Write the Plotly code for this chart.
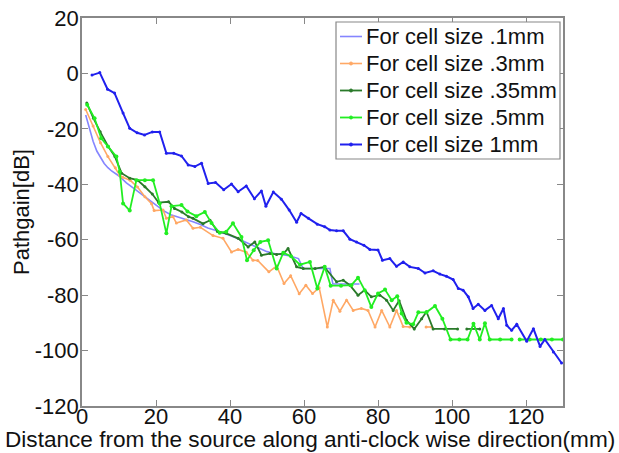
import plotly.graph_objects as go

# ---- data ----
x_01 = [1, 2, 3, 4, 5, 6, 7, 8, 10, 12, 14, 16, 18, 20, 22, 24, 26, 28, 30, 32, 34, 36, 38, 40,
        42, 44, 46, 48, 50, 52, 54, 56, 58.5, 59.8, 63, 67, 67.8, 71, 75]
y_01 = [-15, -20, -24.5, -28, -30.5, -32.5, -34, -35.2, -37, -39.5, -41.5, -43.5, -45.5, -47.5,
        -49.5, -51, -51.8, -52.5, -53.5, -54.5, -55.8, -56.6, -57.5, -58.5, -59.6, -60.8, -62,
        -63.3, -64.3, -65, -65.3, -65.8, -66.8, -70.4, -70.4, -70.4, -76, -76, -76]

x_03 = [1, 3, 5, 7, 9, 10.2, 11, 13, 15, 17, 18.8, 19.5, 21.9, 22.8, 24.6, 25.5, 28.2, 30, 32,
        35.4, 38.1, 40.4, 42.2, 44.4, 46.2, 47.5, 50.5, 52.6, 54.6, 56.4, 58.7, 60.5, 62.3, 64.1,
        66.3, 67.9, 69.7, 71.5, 73.3, 75.5, 77.3, 79.2, 81, 83.2, 85, 86.8, 88.6, None, 93, 94.5]
y_03 = [-13, -19, -25, -30, -34, -36.7, -37.5, -38.5, -41, -44.5, -47, -49.5, -49.3, -52.3, -51.7,
        -54, -52.9, -55.9, -55.5, -58.5, -59.5, -64.4, -63.5, -64.5, -67.4, -67.5, -71.6, -69.5,
        -75.8, -73, -79.5, -76.4, -79.4, -77.3, -91.5, -81.8, -85.8, -81.8, -85.5, -84.8, -85.5,
        -91.5, -85.5, -91.5, -85.5, -91.3, -91.5, None, -91.5, -91.5]

x_035 = [1.3, 3.1, 4.9, 7.1, 8.9, 10.7, 12.9, 15, 17, 19, 20.7, 23.4, 25, 27, 28.8, 30, 32.7,
         34.6, 36.6, 39, 42.2, 44.9, 46.7, 48.5, 50.8, 52.6, 54.4, 55.7, 58, 59.8, 63, 65.5, 68.8,
         70.6, 72.4, 74.6, 76.4, 78.2, 80.5, 82.3, 84.1, 85.7, 87.7, 89.8, 91.8, 93.1, 94.9, 98,
         101.5, None, 104, 107.5]
y_035 = [-10.7, -16.2, -21, -26.4, -30, -36, -37.8, -38.5, -40.9, -43.5, -46.6, -46.3, -48.7, -50,
         -51.7, -52.3, -54.2, -53, -57, -57.7, -59.5, -62.6, -60.8, -65.6, -65, -65.3, -65, -63.2,
         -69.8, -70.4, -70.4, -69.8, -75.2, -74.6, -76.4, -80, -78.2, -80.6, -80, -81.8, -85.5,
         -82, -89.1, -92.2, -88.5, -86, -92.2, -92.2, -92.2, None, -92.2, -92.2]

x_05 = [1.4, 3.4, 5.2, 7, 9.3, 10.2, 11.1, 12.9, 14.7, 17, 19.2, 21, 22.8, 24.2, 26.9, 28.5, 30.9,
        33.2, 35, 37.2, 39, 40.8, 43.1, 44.6, 46.4, 48.2, 50.3, 52.6, 54.4, 56.5, 58.9, 61.6, 63.6,
        65.6, 67.2, 70, 72.8, 74.6, 76.4, 78.2, 80, 81.9, 83.7, 85.2, 86.4, 87.7, 89.5, 90.9, 93.1,
        95.4, 97.4, 99.6, 102, 104.2, 105.8, 107.5, 108.9, 110.2, 113, 116.1, None, 118.3, 121,
        124, 127, 130]
y_05 = [-11.3, -16.2, -23.4, -26.4, -30, -35.5, -46.9, -49.5, -38.5, -38.5, -38.5, -46.9, -57.7,
        -47.9, -47.5, -49.8, -51.5, -50, -54, -57.5, -57.1, -54.1, -59, -67.4, -63.8, -60.8, -60.2,
        -70.4, -64.7, -66, -69, -68, -77.6, -69.8, -76.6, -76.6, -76.4, -73.7, -78.2, -84.3, -79.4,
        -78, -81.8, -80.4, -86.6, -90, -90.5, -86.2, -86.2, -83.9, -88.5, -96, -96, -96, -90.3,
        -96, -90.1, -96, -96, -96, None, -96, -96, -96, -96, -96]

x_1 = [2.7, 4.8, 6.9, 8.8, 11.1, 12.9, 14.9, 16.9, 19.0, 21.0, 22.8, 24.8, 26.9, 28.7, 30.5, 32.3,
       34.1, 36.1, 38.3, 40.4, 42.2, 44.4, 46.6, 48.5, 49.7, 51.7, 53.9, 56, 58, 59.2, 61.2, 63.6,
       65.6, 67, 68.8, 70.6, 72.4, 74.2, 76.2, 77.8, 80, 81.2, 83.2, 85, 86.8, 88.6, 90.9, 92.7,
       94.9, 96.7, 98.5, 100.3, 101.7, 103, 104.4, 105.7, 107.1, 108.9, 110.7, 112.5, 113.9,
       114.8, 116.1, 117.5, 120.2, 122, 123.8, 125.1, 127.4, 129.6]
y_1 = [-0.6, 0.3, -5.7, -7.1, -14.3, -19.8, -21.4, -22.2, -21.1, -21.1, -28.8, -28.8, -29.8, -33,
       -33.6, -32.4, -39.7, -39.4, -42, -39.9, -42.7, -40.6, -45.2, -42.4, -47.9, -42.8, -45.4,
       -49.3, -53.7, -50.5, -52.3, -54.4, -55.3, -56.5, -56.8, -56.8, -59.8, -60.8, -62, -63.5,
       -63.7, -67.4, -66.8, -69.6, -68, -69.8, -70.4, -72, -71.2, -72.4, -73.2, -74.4, -77.6,
       -78.2, -80.6, -84.8, -83.3, -85.5, -83.7, -88.5, -84.8, -90.9, -92.7, -90.5, -96.6, -92.1,
       -98.5, -96, -100.5, -104.5]

names = ["For cell size .1mm", "For cell size .3mm", "For cell size .35mm",
         "For cell size .5mm", "For cell size 1mm"]
colors = ["#8585ff", "#ffa865", "#2a7a2a", "#22ee22", "#2020ee"]
xticks = [0, 20, 40, 60, 80, 100, 120]
yticks = [20, 0, -20, -40, -60, -80, -100, -120]

FONT = "Arial, Liberation Sans, sans-serif"
W, H = 619, 453
ML, MR, MT, MB = 82, 56, 18, 47
PW, PH = W - ML - MR, H - MT - MB


def px(xp):
    return (xp - ML) / PW


def py(yp):
    return (H - MB - yp) / PH


series = [(x_01, y_01, "lines", 1.6, 0), (x_03, y_03, "lines+markers", 1.6, 3),
          (x_035, y_035, "lines+markers", 1.8, 3), (x_05, y_05, "lines+markers", 1.8, 4),
          (x_1, y_1, "lines+markers", 2.0, 3)]

fig = go.Figure()
for (xs, ys, mode, lw, ms), nm, col in zip(series, names, colors):
    fig.add_trace(go.Scatter(x=xs, y=ys, name=nm, mode=mode,
                             line=dict(color=col, width=lw),
                             marker=dict(size=ms if ms else 1, color=col),
                             showlegend=False))

axis_common = dict(showgrid=False, zeroline=False, showline=True, linecolor="#888888",
                   linewidth=1.5, mirror="ticks", ticks="inside", ticklen=6,
                   tickcolor="#888888", automargin=False,
                   tickfont=dict(family=FONT, size=22, color="#111"))

# legend box (drawn manually to match the original row spacing)
LX0, LX1, LY0, LY1 = 336, 560, 22, 159
row_y = [36.5, 63.5, 90.5, 117.5, 144.5]
shapes = [dict(type="rect", xref="paper", yref="paper", x0=px(LX0), x1=px(LX1),
               y0=py(LY1), y1=py(LY0), line=dict(color="#888888", width=1.2),
               fillcolor="white", layer="above")]
annotations = []
for i, (nm, col) in enumerate(zip(names, colors)):
    ry = row_y[i]
    shapes.append(dict(type="line", xref="paper", yref="paper", x0=px(340), x1=px(362),
                       y0=py(ry), y1=py(ry), line=dict(color=col, width=series[i][3]),
                       layer="above"))
    if series[i][4]:
        r = 1.5
        shapes.append(dict(type="circle", xref="paper", yref="paper",
                           x0=px(351 - r), x1=px(351 + r), y0=py(ry + r), y1=py(ry - r),
                           fillcolor=col, line=dict(color=col, width=1), layer="above"))
    annotations.append(dict(text=nm, xref="paper", yref="paper", x=px(364), y=py(ry),
                            xanchor="left", yanchor="middle", showarrow=False,
                            font=dict(family=FONT, size=22, color="#111")))

annotations.append(dict(text="Distance from the source along anti-clock wise direction(mm)",
                        xref="paper", yref="paper", x=px(310), y=py(440),
                        xanchor="center", yanchor="middle", showarrow=False,
                        font=dict(family=FONT, size=22.6, color="#111")))
annotations.append(dict(text="Pathgain[dB]", xref="paper", yref="paper", x=px(21),
                        y=py(212), xanchor="center", yanchor="middle", showarrow=False,
                        textangle=-90, font=dict(family=FONT, size=22, color="#111")))

fig.update_layout(
    width=W, height=H,
    margin=dict(l=ML, r=MR, t=MT, b=MB, autoexpand=False),
    paper_bgcolor="white", plot_bgcolor="white",
    font=dict(family=FONT, color="#111"),
    xaxis=dict(range=[0, 130], tickvals=xticks, ticktext=[str(v) for v in xticks],
               ticklabelstandoff=-10, **axis_common),
    yaxis=dict(range=[-120, 20], tickvals=yticks, ticktext=[str(v) for v in yticks],
               ticklabelstandoff=-3, **axis_common),
    shapes=shapes, annotations=annotations,
    showlegend=False,
)

fig.write_html("out.html", config={"displayModeBar": False},
               post_script="document.body.style.margin='0';document.body.style.overflow='hidden';")
